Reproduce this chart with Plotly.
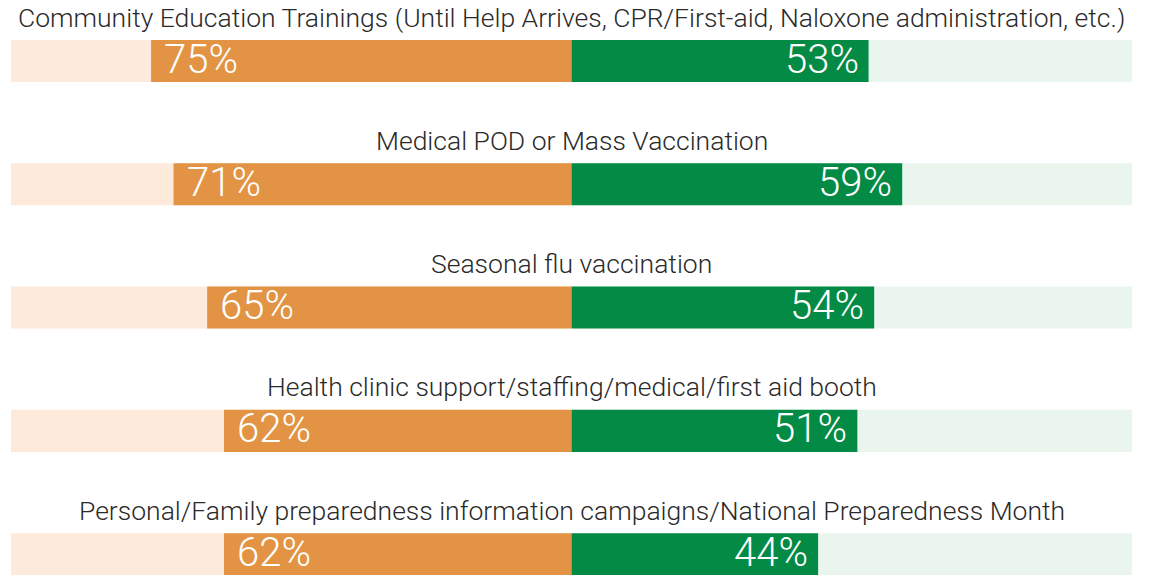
import plotly.graph_objects as go

categories = [
    "Community Education Trainings (Until Help Arrives, CPR/First-aid, Naloxone administration, etc.)",
    "Medical POD or Mass Vaccination",
    "Seasonal flu vaccination",
    "Health clinic support/staffing/medical/first aid booth",
    "Personal/Family preparedness information campaigns/National Preparedness Month",
]
left_values = [75, 71, 65, 62, 62]
right_values = [53, 59, 54, 51, 44]

ORANGE = "#E29444"
ORANGE_BG = "#FDEADB"
GREEN = "#038A45"
GREEN_BG = "#EAF5EE"

idx = list(range(len(categories)))
bw = 0.341

fig = go.Figure()
fig.add_trace(go.Bar(y=idx, x=[-100] * len(idx), orientation="h", width=bw,
                     marker=dict(color=ORANGE_BG, line=dict(width=0)), hoverinfo="skip"))
fig.add_trace(go.Bar(y=idx, x=[100] * len(idx), orientation="h", width=bw,
                     marker=dict(color=GREEN_BG, line=dict(width=0)), hoverinfo="skip"))
fig.add_trace(go.Bar(y=idx, x=[-v for v in left_values], orientation="h", width=bw,
                     marker=dict(color=ORANGE, line=dict(width=0))))
fig.add_trace(go.Bar(y=idx, x=right_values, orientation="h", width=bw,
                     marker=dict(color=GREEN, line=dict(width=0))))

pct_font = dict(family="Roboto", size=40, color="white", weight=300)
for i, (c, lv, rv) in enumerate(zip(categories, left_values, right_values)):
    fig.add_annotation(x=0, y=i - 0.357, text=c, showarrow=False, xanchor="center", yanchor="middle",
                       font=dict(family="Roboto", size=26.5, color="#2a2a2a", weight=300))
    fig.add_annotation(x=-lv, y=i, text=f"{lv}%", showarrow=False, xanchor="left", yanchor="middle",
                       xshift=11, yshift=2, font=pct_font)
    fig.add_annotation(x=rv, y=i, text=f"{rv}%", showarrow=False, xanchor="right", yanchor="middle",
                       xshift=-8, yshift=2, font=pct_font)

fig.update_layout(
    width=1152, height=575,
    margin=dict(l=0, r=0, t=0, b=0),
    paper_bgcolor="white", plot_bgcolor="white",
    barmode="overlay", showlegend=False,
    xaxis=dict(range=[-100, 100], domain=[3 / 1152, 1124 / 1152], visible=False, fixedrange=True),
    yaxis=dict(range=[4.234, -0.430], visible=False, fixedrange=True),
)

fig.write_html("out.html")
